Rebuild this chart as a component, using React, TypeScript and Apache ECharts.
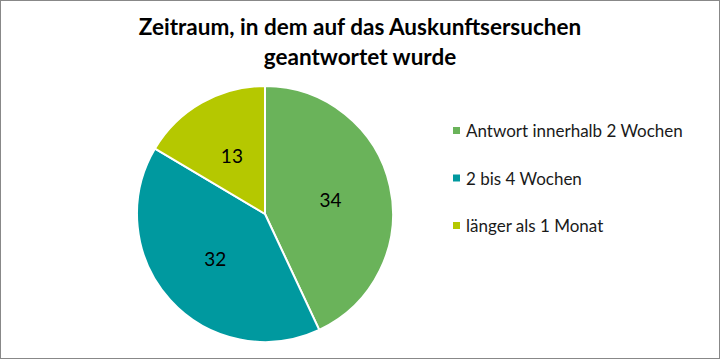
import React, { useEffect, useRef } from "react";
import * as echarts from "echarts";

const titleLines = ["Zeitraum, in dem auf das Auskunftsersuchen", "geantwortet wurde"];
const categories = ["Antwort innerhalb 2 Wochen", "2 bis 4 Wochen", "länger als 1 Monat"];
const values = [34, 32, 13];
const colors = ["#6AB35A", "#00999F", "#B5C800"];

export default function App() {
  const ref = useRef<HTMLDivElement>(null);
  useEffect(() => {
    document.body.style.margin = "0";
    const chart = echarts.init(ref.current!, null, { renderer: "svg" });
    chart.setOption({
      animation: false,
      backgroundColor: "#ffffff",
      title: {
        text: titleLines.join("\n"),
        left: "center",
        top: 5,
        textStyle: {
          fontFamily: "Lato",
          fontWeight: "bold",
          fontSize: 22.5,
          lineHeight: 30,
          color: "#000000",
        },
      },
      legend: {
        orient: "vertical",
        left: 445,
        top: 116,
        icon: "rect",
        itemWidth: 9,
        itemHeight: 9,
        itemGap: 30.5,
        textStyle: {
          fontFamily: "Lato",
          fontSize: 17,
          lineHeight: 17,
          color: "#1a1a1a",
        },
        data: categories,
      },
      series: [
        {
          type: "pie",
          center: [264, 213],
          radius: [0, 128],
          startAngle: 90,
          clockwise: true,
          silent: true,
          itemStyle: { borderColor: "#ffffff", borderWidth: 2 },
          label: {
            show: true,
            position: "inside",
            formatter: "{c}",
            fontFamily: "Lato",
            fontSize: 19,
            color: "#000000",
          },
          labelLine: { show: false },
          data: categories.map((name, i) => ({
            name,
            value: values[i],
            itemStyle: { color: colors[i] },
          })),
        },
      ],
    });
    return () => chart.dispose();
  }, []);
  return (
    <div
      ref={ref}
      style={{
        position: "absolute",
        left: 0,
        top: 0,
        width: 720,
        height: 359,
        boxSizing: "border-box",
        border: "1px solid #888888",
      }}
    />
  );
}
